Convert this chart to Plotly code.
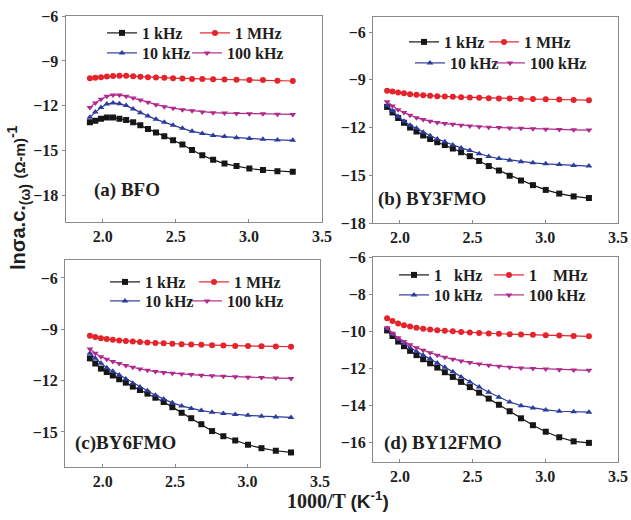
import plotly.graph_objects as go

# ---------------- data ----------------
inv_T = [1.912, 1.949, 1.988, 2.028, 2.070, 2.114, 2.160, 2.208, 2.257, 2.309, 2.364, 2.421,
         2.481, 2.545, 2.611, 2.681, 2.755, 2.833, 2.915, 3.003, 3.096, 3.195, 3.300]

# (a) BFO
a_1k = [-13.1, -13.0, -12.85, -12.78, -12.78, -12.85, -12.95, -13.1, -13.3, -13.55, -13.78, -14.02,
        -14.3, -14.58, -14.95, -15.3, -15.6, -15.85, -16.02, -16.18, -16.28, -16.36, -16.4]
a_1M = [-10.15, -10.12, -10.08, -10.03, -10.0, -9.98, -9.99, -10.02, -10.05, -10.08, -10.1, -10.13,
        -10.15, -10.17, -10.2, -10.21, -10.22, -10.24, -10.25, -10.27, -10.28, -10.32, -10.34]
a_10k = [-12.75, -12.4, -12.1, -11.88, -11.8, -11.85, -11.98, -12.2, -12.45, -12.68, -12.9, -13.1,
         -13.3, -13.5, -13.7, -13.85, -13.97, -14.05, -14.12, -14.18, -14.23, -14.27, -14.3]
a_100k = [-12.1, -11.8, -11.55, -11.35, -11.28, -11.28, -11.35, -11.47, -11.6, -11.75, -11.92, -12.05,
          -12.15, -12.25, -12.32, -12.4, -12.45, -12.48, -12.5, -12.52, -12.53, -12.55, -12.57]

# (b) BY3FMO
b_1k = [-10.7, -11.05, -11.4, -11.7, -12.0, -12.25, -12.5, -12.72, -12.92, -13.1, -13.32, -13.55,
        -13.8, -14.1, -14.42, -14.7, -15.03, -15.33, -15.62, -15.92, -16.15, -16.33, -16.43]
b_1M = [-9.68, -9.74, -9.8, -9.85, -9.9, -9.94, -9.97, -10.0, -10.03, -10.05, -10.07, -10.09,
        -10.11, -10.13, -10.15, -10.17, -10.18, -10.2, -10.21, -10.22, -10.24, -10.26, -10.28]
b_10k = [-10.6, -10.95, -11.3, -11.6, -11.85, -12.05, -12.3, -12.52, -12.72, -12.9, -13.1, -13.28,
         -13.45, -13.65, -13.82, -13.95, -14.05, -14.15, -14.22, -14.28, -14.33, -14.38, -14.42]
b_100k = [-10.38, -10.65, -10.88, -11.05, -11.22, -11.38, -11.5, -11.6, -11.68, -11.75, -11.8, -11.85,
          -11.9, -11.95, -11.98, -12.0, -12.03, -12.05, -12.07, -12.1, -12.12, -12.14, -12.16]

# (c) BY6FMO
c_1k = [-10.7, -11.0, -11.3, -11.5, -11.7, -11.92, -12.12, -12.35, -12.55, -12.76, -13.0, -13.25,
        -13.55, -13.88, -14.2, -14.55, -14.95, -15.25, -15.5, -15.75, -15.95, -16.1, -16.2]
c_1M = [-9.38, -9.45, -9.52, -9.57, -9.61, -9.65, -9.68, -9.71, -9.74, -9.77, -9.8, -9.82,
        -9.85, -9.87, -9.89, -9.91, -9.93, -9.95, -9.97, -9.98, -9.99, -10.0, -10.02]
c_10k = [-10.4, -10.7, -10.98, -11.25, -11.45, -11.67, -11.9, -12.15, -12.38, -12.6, -12.85, -13.08,
         -13.3, -13.48, -13.63, -13.75, -13.85, -13.92, -13.98, -14.03, -14.08, -14.12, -14.15]
c_100k = [-10.15, -10.4, -10.6, -10.75, -10.88, -11.0, -11.12, -11.22, -11.32, -11.4, -11.47, -11.52,
          -11.57, -11.61, -11.65, -11.69, -11.72, -11.75, -11.78, -11.8, -11.82, -11.85, -11.87]

# (d) BY12FMO
d_1k = [-9.95, -10.25, -10.55, -10.8, -11.05, -11.28, -11.5, -11.72, -11.95, -12.2, -12.45, -12.72,
        -13.0, -13.3, -13.62, -13.95, -14.3, -14.68, -15.05, -15.4, -15.7, -15.92, -16.0]
d_1M = [-9.3, -9.45, -9.58, -9.67, -9.74, -9.8, -9.86, -9.9, -9.94, -9.97, -10.0, -10.03,
        -10.06, -10.09, -10.11, -10.13, -10.15, -10.17, -10.19, -10.21, -10.23, -10.25, -10.27]
d_10k = [-9.85, -10.15, -10.42, -10.65, -10.88, -11.08, -11.28, -11.48, -11.7, -11.93, -12.18, -12.45,
         -12.72, -13.0, -13.28, -13.55, -13.8, -14.0, -14.13, -14.23, -14.3, -14.33, -14.35]
d_100k = [-9.8, -10.1, -10.35, -10.55, -10.72, -10.88, -11.02, -11.15, -11.28, -11.4, -11.5, -11.6,
          -11.68, -11.76, -11.82, -11.88, -11.93, -11.97, -12.0, -12.03, -12.06, -12.08, -12.1]

freq_labels = ["1 kHz", "1 MHz", "10 kHz", "100 kHz"]
freq_labels_d = ["1\u00a0\u00a0\u00a0kHz", "1\u00a0\u00a0\u00a0\u00a0MHz", "10 kHz", "100 kHz"]
panel_titles = ["(a) BFO", "(b) BY3FMO", "(c)BY6FMO", "(d) BY12FMO"]
x_ticks = [2.0, 2.5, 3.0, 3.5]
y_ticks_abc = [-6, -9, -12, -15, -18]
y_ticks_d = [-6, -8, -10, -12, -14, -16]

# ---------------- styling / layout ----------------
W, H = 631, 520
colors = ["#161616", "#e4232b", "#2c3c9c", "#b02a8d"]
symbols = ["square", "circle", "triangle-up", "triangle-down"]

def px_x(p):
    return p / W

def px_y(p):
    return 1 - p / H

# legend entry positions (line start px, row centre px) for the 4 series in each panel
panels = [
    dict(series=[a_1k, a_1M, a_10k, a_100k], labels=freq_labels,
         xdom=(65.5, 322), ydom=(16, 222), xr=[1.745, 3.5], yr=[-19.75, -6], yt=y_ticks_abc,
         title_pos=(92, 190), leg=[(110, 33), (203, 33), (110, 53), (195, 53)]),
    dict(series=[b_1k, b_1M, b_10k, b_100k], labels=freq_labels,
         xdom=(373, 618), ydom=(17, 223), xr=[1.815, 3.5], yr=[-18, -5.05], yt=y_ticks_abc,
         title_pos=(376, 199), leg=[(412, 42), (492, 42), (418, 63), (498, 63)]),
    dict(series=[c_1k, c_1M, c_10k, c_100k], labels=freq_labels,
         xdom=(65, 320), ydom=(260, 467), xr=[1.74, 3.5], yr=[-17.05, -4.95], yt=y_ticks_abc,
         title_pos=(73, 443), leg=[(113, 282), (202, 282), (113, 301), (195, 301)]),
    dict(series=[d_1k, d_1M, d_10k, d_100k], labels=freq_labels_d,
         xdom=(373, 618), ydom=(257, 462), xr=[1.815, 3.5], yr=[-17.03, -6], yt=y_ticks_d,
         title_pos=(382, 443), leg=[(402, 275), (497, 275), (402, 295), (497, 295)]),
]

ink = "#1e1e1e"
tick_font = dict(family="Liberation Serif", size=16, color=ink, weight="bold")
leg_font = dict(family="Liberation Serif", size=16, color=ink, weight="bold")

fig = go.Figure()
layout = dict(template="none", width=W, height=H, margin=dict(l=0, r=0, t=0, b=0, pad=0),
              paper_bgcolor="white", plot_bgcolor="white", showlegend=True,
              font=dict(family="Liberation Serif", color=ink))
annotations = []

leg_id = 0
for i, p in enumerate(panels):
    n = "" if i == 0 else str(i + 1)
    xa, ya = "x" + n, "y" + n
    for k in range(4):
        leg_id += 1
        lid = "legend" if leg_id == 1 else "legend" + str(leg_id)
        lx, ly = p["leg"][k]
        layout[lid] = dict(orientation="h", x=px_x(lx - 8), y=px_y(ly), xanchor="left",
                           yanchor="middle", bgcolor="rgba(0,0,0,0)", font=leg_font,
                           itemwidth=30, borderwidth=0)
        fig.add_trace(go.Scatter(
            x=inv_T, y=p["series"][k], name=p["labels"][k], mode="lines+markers",
            line=dict(color=colors[k], width=1.2),
            marker=dict(symbol=symbols[k], size=6, color=colors[k]),
            xaxis=xa, yaxis=ya, legend=lid))
    axcommon = dict(showgrid=False, zeroline=False, showline=True, linecolor="#8a8a8a",
                    linewidth=1, mirror=True, tickfont=tick_font, ticklen=3,
                    tickcolor="#8a8a8a", automargin=False)
    layout["xaxis" + n] = dict(axcommon, domain=[px_x(p["xdom"][0]), px_x(p["xdom"][1])],
                               range=p["xr"], tickvals=x_ticks,
                               ticktext=[f"{v:.1f}" for v in x_ticks],
                               ticks="inside", anchor=ya)
    layout["yaxis" + n] = dict(axcommon, domain=[px_y(p["ydom"][1]), px_y(p["ydom"][0])],
                               range=p["yr"], tickvals=p["yt"], ticks="outside", anchor=xa)
    tx, ty = p["title_pos"]
    annotations.append(dict(text=panel_titles[i], x=px_x(tx), y=px_y(ty), xref="paper",
                            yref="paper", xanchor="left", yanchor="middle", showarrow=False,
                            font=dict(family="Liberation Serif", size=19, color=ink,
                                      weight="bold")))

annotations.append(dict(
    text="lnσa.c.<sub>(ω)</sub> <span style='font-size:15px'>(Ω-m)</span><sup>-1</sup>",
    x=px_x(18), y=px_y(198), xref="paper", yref="paper", textangle=-90,
    showarrow=False, xanchor="center", yanchor="middle",
    font=dict(family="Liberation Sans", size=20, color=ink, weight="bold")))
annotations.append(dict(
    text="1000/T <span style='font-family:Liberation Sans;font-size:19px'>(K<sup>-1</sup>)</span>",
    x=px_x(338), y=px_y(500), xref="paper", yref="paper", showarrow=False,
    xanchor="center", yanchor="middle",
    font=dict(family="Liberation Serif", size=20, color=ink, weight="bold")))

layout["annotations"] = annotations
fig.update_layout(**layout)
fig.write_html("out.html")
